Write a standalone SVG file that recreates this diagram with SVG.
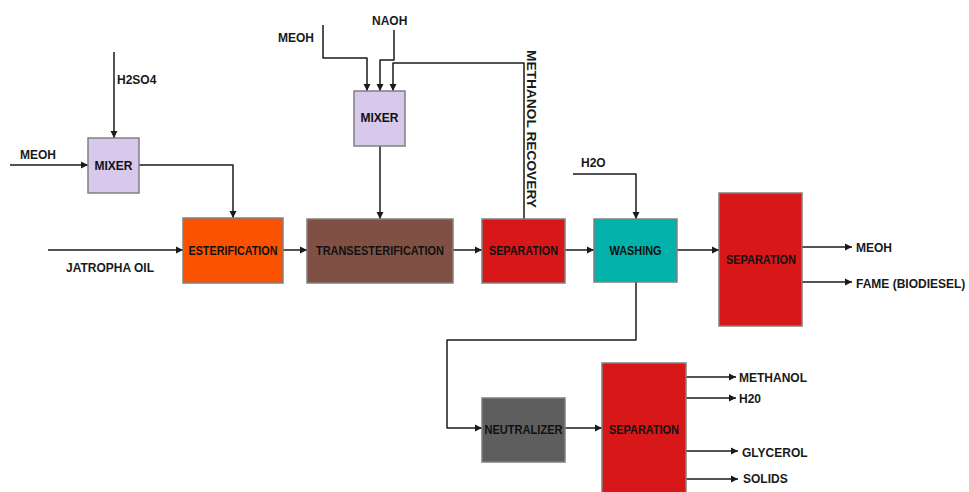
<svg xmlns="http://www.w3.org/2000/svg" width="969" height="492" viewBox="0 0 969 492">
  <style>
    .box { stroke: #808080; stroke-width: 1.5; }
    .lbl { font-family: "Liberation Sans", Arial, sans-serif; font-weight: bold; font-size: 12.5px; fill: #111; text-anchor: middle; }
    .mx { font-size: 12px; }
    .ext { font-family: "Liberation Sans", Arial, sans-serif; font-weight: bold; font-size: 12px; fill: #1a1a1a; }
    .vt { font-size: 13.5px; }
    .ln { fill: none; stroke: #1a1a1a; stroke-width: 1.5; stroke-linejoin: round; marker-end: url(#ah); }
  </style>
  <defs>
    <marker id="ah" markerUnits="userSpaceOnUse" markerWidth="8" markerHeight="8" refX="7" refY="4" orient="auto">
      <path d="M0,0.5 L7,4 L0,7.5 z" fill="#1a1a1a"/>
    </marker>
  </defs>
  <rect width="969" height="492" fill="#ffffff"/>

  <g id="connectors">
    <path class="ln" d="M114,52 V138"/>
    <path class="ln" d="M10,165 H88"/>
    <path class="ln" d="M139,165 H233 V218"/>
    <path class="ln" d="M48,250 H183"/>
    <path class="ln" d="M283,250 H307"/>
    <path class="ln" d="M323,25 V58 H367 V91"/>
    <path class="ln" d="M394,30 V60 H380 V91"/>
    <path class="ln" d="M524,219 V63 H393 V91"/>
    <path class="ln" d="M380,146 V219"/>
    <path class="ln" d="M453,250 H482"/>
    <path class="ln" d="M565,250 H594"/>
    <path class="ln" d="M573,174 H636 V219"/>
    <path class="ln" d="M677,250 H719"/>
    <path class="ln" d="M802,247 H852"/>
    <path class="ln" d="M802,282 H852"/>
    <path class="ln" d="M636,282 V340 H447 V428 H482"/>
    <path class="ln" d="M565,428 H602"/>
    <path class="ln" d="M686,377 H736"/>
    <path class="ln" d="M686,398 H736"/>
    <path class="ln" d="M686,451 H738"/>
    <path class="ln" d="M686,479 H738"/>
  </g>

  <g id="mixer1">
    <rect class="box" x="88" y="138" width="51" height="55" fill="#d8c8ec"/>
    <text class="lbl mx" x="113.5" y="170">MIXER</text>
  </g>
  <g id="esterification">
    <rect class="box" x="183" y="218" width="100" height="65" fill="#fb5200"/>
    <text class="lbl" x="233" y="255" textLength="89" lengthAdjust="spacingAndGlyphs">ESTERIFICATION</text>
  </g>
  <g id="mixer2">
    <rect class="box" x="354" y="91" width="51" height="55" fill="#d8c8ec"/>
    <text class="lbl mx" x="379.5" y="122">MIXER</text>
  </g>
  <g id="transesterification">
    <rect class="box" x="307" y="219" width="146" height="64" fill="#7f5043"/>
    <text class="lbl" x="380" y="255" textLength="128" lengthAdjust="spacingAndGlyphs">TRANSESTERIFICATION</text>
  </g>
  <g id="separation1">
    <rect class="box" x="482" y="219" width="83" height="64" fill="#d71718"/>
    <text class="lbl" x="523.5" y="255" textLength="69" lengthAdjust="spacingAndGlyphs">SEPARATION</text>
  </g>
  <g id="washing">
    <rect class="box" x="594" y="219" width="83" height="63" fill="#00b2a9"/>
    <text class="lbl" x="635.5" y="255" textLength="52" lengthAdjust="spacingAndGlyphs">WASHING</text>
  </g>
  <g id="separation2">
    <rect class="box" x="719" y="193" width="83" height="133" fill="#d71718"/>
    <text class="lbl" x="761" y="264" textLength="70" lengthAdjust="spacingAndGlyphs">SEPARATION</text>
  </g>
  <g id="neutralizer">
    <rect class="box" x="482" y="398" width="83" height="64" fill="#5e5e5e"/>
    <text class="lbl" x="523.5" y="434" textLength="78" lengthAdjust="spacingAndGlyphs">NEUTRALIZER</text>
  </g>
  <g id="separation3">
    <rect class="box" x="602" y="363" width="84" height="140" fill="#d71718"/>
    <text class="lbl" x="644" y="434" textLength="70" lengthAdjust="spacingAndGlyphs">SEPARATION</text>
  </g>

  <g id="labels">
    <text class="ext" x="117" y="84">H2SO4</text>
    <text class="ext" x="20" y="159">MEOH</text>
    <text class="ext" x="66" y="272">JATROPHA OIL</text>
    <text class="ext" x="278" y="42">MEOH</text>
    <text class="ext" x="372" y="25">NAOH</text>
    <text class="ext" x="581" y="167">H2O</text>
    <text class="ext" x="856" y="252">MEOH</text>
    <text class="ext" x="856" y="288">FAME (BIODIESEL)</text>
    <text class="ext" x="739" y="382">METHANOL</text>
    <text class="ext" x="739" y="403">H20</text>
    <text class="ext" x="742" y="457">GLYCEROL</text>
    <text class="ext" x="743" y="483">SOLIDS</text>
    <text class="ext vt" x="0" y="0" textLength="158" lengthAdjust="spacingAndGlyphs" transform="translate(527,50) rotate(90)">METHANOL RECOVERY</text>
  </g>
</svg>
